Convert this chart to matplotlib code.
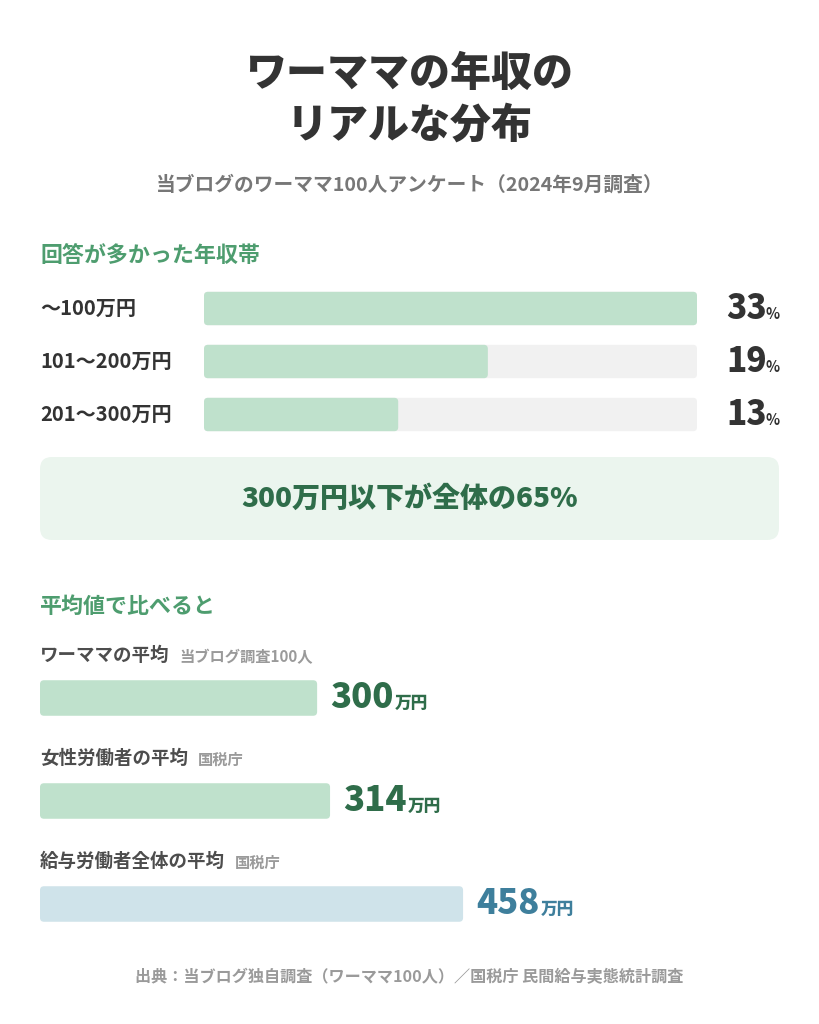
import matplotlib
matplotlib.use("Agg")
import matplotlib.pyplot as plt
import matplotlib.transforms as mtrans
from matplotlib.patches import FancyBboxPatch

plt.rcParams['font.family'] = ['Noto Sans CJK JP', 'DejaVu Sans']

# データ
title_lines = ['ワーママの年収の', 'リアルな分布']
subtitle = '当ブログのワーママ100人アンケート（2024年9月調査）'

band_header = '回答が多かった年収帯'
band_labels = ['～100万円', '101～200万円', '201～300万円']
band_pct = [33, 19, 13]
callout = '300万円以下が全体の65%'

avg_header = '平均値で比べると'
avg_labels = ['ワーママの平均', '女性労働者の平均', '給与労働者全体の平均']
avg_sources = ['当ブログ調査100人', '国税庁', '国税庁']
avg_values = [300, 314, 458]
avg_xmax = 800

footer = '出典：当ブログ独自調査（ワーママ100人）／国税庁 民間給与実態統計調査'

# 色
C_TITLE = '#333333'
C_SUB = '#777777'
C_HEAD = '#4e9d6f'
C_TRACK = '#f1f1f1'
C_GREEN = '#bfe1cc'
C_DKGREEN = '#2f6d4a'
C_BLUE = '#cfe3ea'
C_DKBLUE = '#3e7f9c'
C_CALLOUT = '#ebf5ee'
C_LABEL = '#4d4d4d'
C_SRC = '#9a9a9a'
avg_bar_colors = [C_GREEN, C_GREEN, C_BLUE]
avg_txt_colors = [C_DKGREEN, C_DKGREEN, C_DKBLUE]

W, H = 819, 1024
fig = plt.figure(figsize=(W / 100, H / 100), dpi=100, facecolor='white')


def px_rect(x0, y0, x1, y1):
    return [x0 / W, 1 - y1 / H, (x1 - x0) / W, (y1 - y0) / H]


def rounded_bar(ax, y, width, height, color, r_px=4):
    # 角丸バー（x/y のスケール差を補正）
    bb = ax.get_position()
    x0, x1 = ax.get_xlim()
    y0, y1 = ax.get_ylim()
    xpp = abs(x1 - x0) / (bb.width * W)
    ypp = abs(y1 - y0) / (bb.height * H)
    p = FancyBboxPatch((0, y - height / 2), width, height,
                       boxstyle=f'round,pad=0,rounding_size={r_px * xpp}',
                       mutation_aspect=ypp / xpp, fc=color, ec='none')
    ax.add_patch(p)


bg = fig.add_axes([0, 0, 1, 1])
bg.set_xlim(0, W)
bg.set_ylim(H, 0)
bg.axis('off')
renderer = fig.canvas.get_renderer()

# タイトル
bg.text(W / 2, 74, title_lines[0], ha='center', va='center', fontsize=29.5,
        fontweight='black', color=C_TITLE)
bg.text(W / 2, 126, title_lines[1], ha='center', va='center', fontsize=29.5,
        fontweight='black', color=C_TITLE)
bg.text(W / 2, 185, subtitle, ha='center', va='center', fontsize=14.2,
        fontweight='bold', color=C_SUB)

# 年収帯
bg.text(40, 256, band_header, ha='left', va='center', fontsize=15.8,
        fontweight='bold', color=C_HEAD)

ax1 = fig.add_axes(px_rect(204, 282, 697, 441))
ax1.set_xlim(0, max(band_pct))
ax1.set_ylim(len(band_pct) - 0.5, -0.5)
ax1.axis('off')
ytr1 = ax1.get_yaxis_transform()
mix1 = mtrans.blended_transform_factory(fig.transFigure, ax1.transData)
for i, (lab, v) in enumerate(zip(band_labels, band_pct)):
    rounded_bar(ax1, i, max(band_pct), 0.63, C_TRACK)
    rounded_bar(ax1, i, v, 0.63, C_GREEN)
    ax1.text(-164 / 493, i, lab, transform=ytr1, ha='left', va='center',
             fontsize=14.5, fontweight='bold', color=C_TITLE)
    t = ax1.text(1 + 83 / 493, i + 0.2, '%', transform=ytr1, ha='right', va='baseline',
                 fontsize=10.5, fontweight='bold', color=C_TITLE)
    ext = t.get_window_extent(renderer)
    ax1.text((ext.x0 + 1) / W, i + 0.2, str(v), transform=mix1,
             ha='right', va='baseline', fontsize=24, fontweight='black', color=C_TITLE)

# 吹き出しボックス
bg.add_patch(FancyBboxPatch((40, 457), 739, 83, boxstyle='round,pad=0,rounding_size=12',
                            fc=C_CALLOUT, ec='none'))
bg.text(W / 2, 499, callout, ha='center', va='center', fontsize=20.2,
        fontweight='black', color=C_DKGREEN)

# 平均値
bg.text(40, 606, avg_header, ha='left', va='center', fontsize=15.8,
        fontweight='bold', color=C_HEAD)

ax2 = fig.add_axes(px_rect(40, 646.5, 779, 955.5))
ax2.set_xlim(0, avg_xmax)
ax2.set_ylim(len(avg_values) - 0.5, -0.5)
ax2.axis('off')
ytr2 = ax2.get_yaxis_transform()
mix2 = mtrans.blended_transform_factory(fig.transFigure, ax2.transData)
for i, (lab, src, v) in enumerate(zip(avg_labels, avg_sources, avg_values)):
    rounded_bar(ax2, i, v, 0.345, avg_bar_colors[i])
    t = ax2.text(0, i - 43 / 103, lab, transform=ytr2, ha='left', va='center',
                 fontsize=13.3, fontweight='bold', color=C_LABEL)
    ext = t.get_window_extent(renderer)
    ax2.text((ext.x1 + 10) / W, i - 41 / 103, src, transform=mix2, ha='left', va='center',
             fontsize=11, fontweight='bold', color=C_SRC)
    n = ax2.text(v + 13 / 739 * avg_xmax, i + 0.1, str(v), ha='left', va='baseline',
                 fontsize=25, fontweight='black', color=avg_txt_colors[i])
    ext = n.get_window_extent(renderer)
    ax2.text((ext.x1 + 1) / W, i + 0.1, '万円', transform=mix2, ha='left', va='baseline',
             fontsize=12, fontweight='black', color=avg_txt_colors[i])

# 出典
bg.text(W / 2, 977, footer, ha='center', va='center', fontsize=11.6,
        fontweight='bold', color=C_SRC)

fig.savefig('out.png', dpi=100, facecolor='white')
